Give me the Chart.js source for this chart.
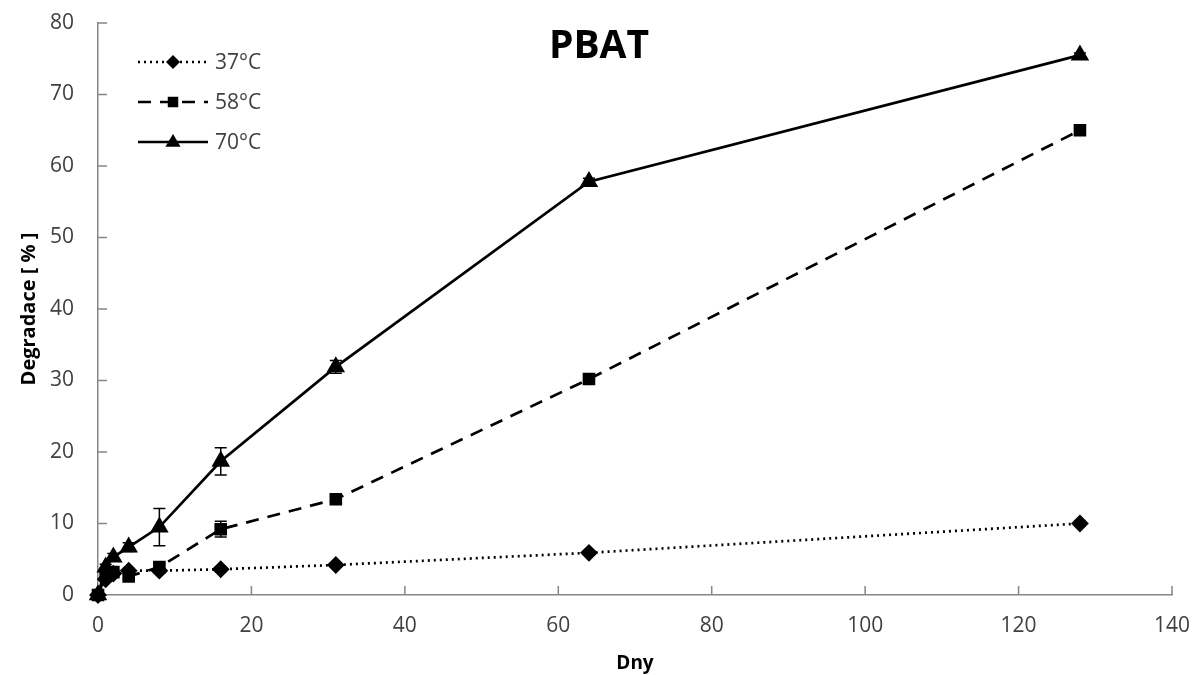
<!DOCTYPE html>
<html><head><meta charset="utf-8">
<script src="https://cdn.jsdelivr.net/npm/chart.js@4/dist/chart.umd.min.js"></script>
<style>html,body{margin:0;padding:0;background:#fff}#wrap{width:1195px;height:675px}</style>
</head><body><div id="wrap"><canvas id="c" width="1195" height="675"></canvas></div>
<script>
const days = [0, 1, 2, 4, 8, 16, 31, 64, 128];
const deg37 = [0, 2.2, 3.0, 3.4, 3.4, 3.6, 4.2, 5.9, 10.0];
const deg58 = [0, 2.8, 3.2, 2.6, 3.9, 9.2, 13.4, 30.2, 65.0];
const deg70 = [0, 3.9, 5.3, 6.7, 9.5, 18.7, 31.9, 57.8, 75.5];
const err37 = [0, 0.3, 0.3, 0.3, 0.3, 0.3, 0.3, 0.3, 0.3];
const err58 = [0, 0.3, 0.3, 0.3, 0.5, 1.1, 0.3, 0.3, 0.3];
const err70 = [0, 0.4, 0.5, 0.6, 2.6, 1.9, 0.9, 0.5, 0.3];
const seriesLabels = ['37°C', '58°C', '70°C'];
const xTicks = [0, 20, 40, 60, 80, 100, 120, 140];
const yTicks = [0, 10, 20, 30, 40, 50, 60, 70, 80];

const FONT = "'Open Sans', 'Noto Sans', sans-serif";
const pts = (ys) => days.map((d, i) => ({x: d, y: ys[i]}));

const errPlugin = {
  id: 'errbars',
  afterDatasetsDraw(chart) {
    const {ctx, scales: {x, y}} = chart;
    const errs = [err37, err58, err70];
    ctx.save();
    ctx.strokeStyle = '#000'; ctx.lineWidth = 1.5;
    chart.data.datasets.forEach((ds, di) => {
      ds.data.forEach((p, i) => {
        const e = errs[di][i]; if (!e) return;
        const px = x.getPixelForValue(p.x);
        const y1 = y.getPixelForValue(p.y + e), y2 = y.getPixelForValue(p.y - e);
        ctx.beginPath();
        ctx.moveTo(px, y1); ctx.lineTo(px, y2);
        ctx.moveTo(px - 6, y1); ctx.lineTo(px + 6, y1);
        ctx.moveTo(px - 6, y2); ctx.lineTo(px + 6, y2);
        ctx.stroke();
      });
    });
    ctx.restore();
  }
};

const decoPlugin = {
  id: 'deco',
  beforeDatasetsDraw(chart) {
    const {ctx, scales: {x, y}, chartArea: a} = chart;
    ctx.save();
    ctx.strokeStyle = '#868686'; ctx.lineWidth = 1.5;
    ctx.beginPath();
    xTicks.forEach(v => { const px = x.getPixelForValue(v); ctx.moveTo(px, a.bottom); ctx.lineTo(px, a.bottom - 9); });
    yTicks.forEach(v => { const py = y.getPixelForValue(v); ctx.moveTo(a.left, py); ctx.lineTo(a.left + 9, py); });
    ctx.stroke();
    ctx.restore();
  },
  afterDraw(chart) {
    const {ctx} = chart;
    ctx.save();
    ctx.fillStyle = '#000';
    ctx.font = "bold 39px " + FONT;
    ctx.textAlign = 'center'; ctx.textBaseline = 'middle';
    ctx.fillText('PBAT', 599, 47);
    // legend
    const rows = [62, 102, 142];
    chart.data.datasets.forEach((ds, i) => {
      const yy = rows[i];
      ctx.strokeStyle = '#000'; ctx.lineWidth = ds.borderWidth;
      ctx.setLineDash(ds.borderDash || []);
      ctx.beginPath(); ctx.moveTo(138, yy); ctx.lineTo(208, yy); ctx.stroke();
      ctx.setLineDash([]);
      ctx.fillStyle = '#000';
      const cx = 173, r = ds.pointRadius;
      ctx.beginPath();
      if (ds.pointStyle === 'rectRot') { ctx.moveTo(cx, yy - r); ctx.lineTo(cx + r, yy); ctx.lineTo(cx, yy + r); ctx.lineTo(cx - r, yy); }
      else if (ds.pointStyle === 'rect') { ctx.rect(cx - r * 0.75, yy - r * 0.75, r * 1.5, r * 1.5); }
      else { ctx.moveTo(cx, yy - r); ctx.lineTo(cx + r * 0.95, yy + r * 0.6); ctx.lineTo(cx - r * 0.95, yy + r * 0.6); }
      ctx.closePath(); ctx.fill();
      ctx.fillStyle = '#404040';
      ctx.font = "21px " + FONT; ctx.textAlign = 'left';
      ctx.fillText(ds.label, 215, yy + 1);
    });
    ctx.restore();
  }
};

const common = {borderColor: '#000', backgroundColor: '#000', pointBorderColor: '#000', pointBackgroundColor: '#000', borderWidth: 2.7, tension: 0, fill: false};
new Chart(document.getElementById('c'), {
  type: 'scatter',
  data: {datasets: [
    Object.assign({label: seriesLabels[0], data: pts(deg37), showLine: true, borderDash: [2, 4], pointStyle: 'rectRot', pointRadius: 7}, common),
    Object.assign({label: seriesLabels[1], data: pts(deg58), showLine: true, borderDash: [13, 9], pointStyle: 'rect', pointRadius: 7}, common),
    Object.assign({label: seriesLabels[2], data: pts(deg70), showLine: true, pointStyle: 'triangle', pointRadius: 8}, common)
  ]},
  options: {
    responsive: false, animation: false, clip: false,
    layout: {padding: {top: 23, right: 23, left: 0, bottom: 0}},
    plugins: {legend: {display: false}, tooltip: {enabled: false}},
    scales: {
      x: {type: 'linear', min: 0, max: 140,
        afterBuildTicks: s => { s.ticks = xTicks.map(v => ({value: v})); },
        afterFit: s => { s.height = 80; s.paddingLeft = 0; s.paddingRight = 0; },
        grid: {display: true, drawOnChartArea: false, drawTicks: false},
        border: {display: true, color: '#868686', width: 1.5},
        ticks: {padding: 18, color: '#404040', font: {family: FONT, size: 21}},
        title: {display: true, text: 'Dny', color: '#000', font: {family: FONT, size: 19, weight: 'bold'}, padding: {top: 4, bottom: 0}}
      },
      y: {type: 'linear', min: 0, max: 80,
        afterBuildTicks: s => { s.ticks = yTicks.map(v => ({value: v})); },
        afterFit: s => { s.width = 98; s.paddingTop = 0; s.paddingBottom = 0; },
        grid: {display: true, drawOnChartArea: false, drawTicks: false},
        border: {display: true, color: '#868686', width: 1.5},
        ticks: {padding: 24, color: '#404040', font: {family: FONT, size: 21}},
        title: {display: true, text: 'Degradace [ % ]', color: '#000', font: {family: FONT, size: 20, weight: 'bold'}, padding: {top: 17, bottom: 0}}
      }
    }
  },
  plugins: [decoPlugin, errPlugin]
});
</script></body></html>
